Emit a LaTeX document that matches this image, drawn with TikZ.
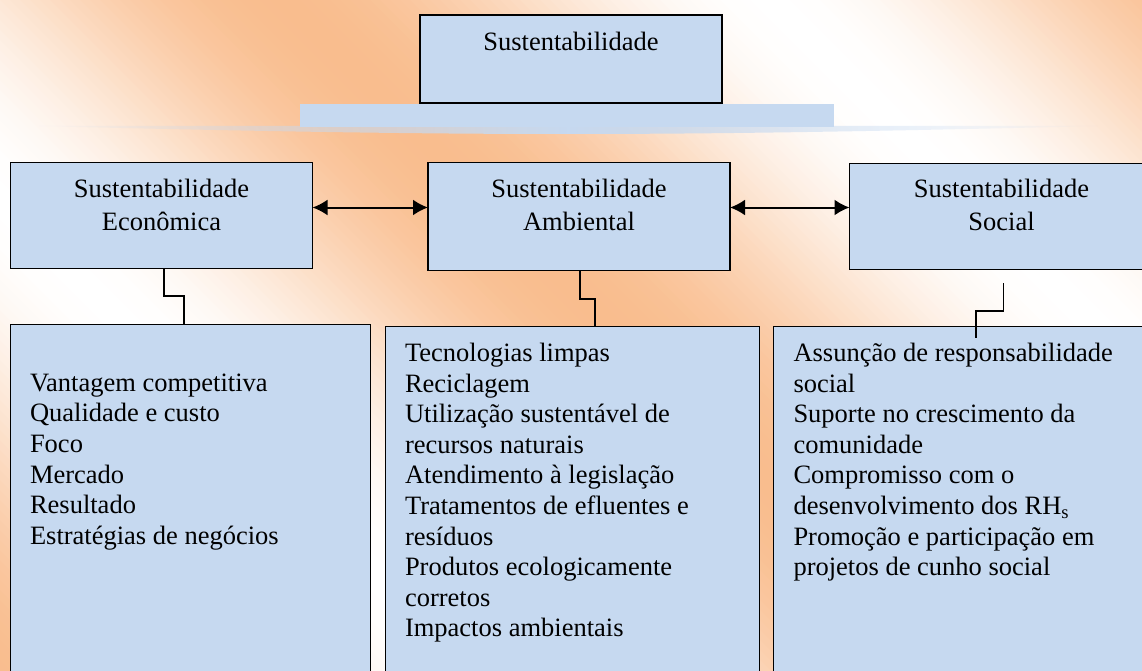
\documentclass[tikz,border=0pt]{standalone}
\usepackage{fontspec}
\setmainfont{Liberation Serif}
\usetikzlibrary{arrows.meta,fadings}
\definecolor{boxblue}{RGB}{198,217,240}
\definecolor{bgorange}{RGB}{249,189,142}
\tikzfading[name=lensfade, left color=transparent!100, right color=transparent!100, middle color=transparent!0]
\begin{document}
\begin{tikzpicture}[x=1pt,y=-1pt,
  every node/.style={font=\fontsize{26.5}{30.6}\selectfont},
  box/.style={draw=black, line width=1.5pt, fill=boxblue, inner sep=0pt, outer sep=0pt, anchor=north west},
  txt/.style={inner sep=0pt, outer sep=0pt},
  conn/.style={draw=black, line width=1.4pt},
  dbl/.style={line width=2pt, {Latex[length=15pt,width=16pt]}-{Latex[length=15pt,width=16pt]}},
  midtext/.style={txt, anchor=base},
  listtext/.style={txt, anchor=base west}]
\useasboundingbox (0,0) rectangle (1142,671);
\begin{scope}
\clip (0,0) rectangle (1142,671);
% background diagonal gradient
\foreach \u in {-690,-680,...,1160}{
  \pgfmathsetmacro\p{50+50*cos(0.3711340*(\u-280))}
  \fill[bgorange!\p!white] (\u-10,-10) -- (\u+1,-10) -- (\u+711,700) -- (\u+700,700) -- cycle;
}
% bar shadow lens and bar
\fill[boxblue, path fading=lensfade] (33,126) .. controls (250,131) and (400,134) .. (567,134)
   .. controls (734,134) and (884,131) .. (1103,126) -- cycle;
\node[fill=boxblue, inner sep=0pt, outer sep=0pt, minimum width=534pt, minimum height=23pt, anchor=north west] (bar) at (300,104) {};
% top box
\node[box, minimum width=302pt, minimum height=88pt] (top) at (420,15) {};
\node[midtext] (toptxt) at (571,51) {Sustentabilidade};
% middle boxes
\node[box, minimum width=302pt, minimum height=106pt] (econ) at (10.5,162.5) {};
\node[box, minimum width=302pt, minimum height=108pt] (amb) at (428,162.5) {};
\node[box, minimum width=310pt, minimum height=106pt] (soc) at (849.5,163.5) {};
\node[midtext] (econtxt) at (161.5,197) {\parbox[t]{300pt}{\centering\fontsize{26.5}{33}\selectfont Sustentabilidade\\Econômica}};
\node[midtext] (ambtxt) at (579,197) {\parbox[t]{300pt}{\centering\fontsize{26.5}{33}\selectfont Sustentabilidade\\Ambiental}};
\node[midtext] (soctxt) at (1001.5,197.5) {\parbox[t]{300pt}{\centering\fontsize{26.5}{33}\selectfont Sustentabilidade\\Social}};
% bottom boxes
\node[box, minimum width=360pt, minimum height=380pt] (econB) at (10.5,324.5) {};
\node[box, minimum width=374pt, minimum height=380pt] (ambB) at (385.5,326.5) {};
\node[box, minimum width=390pt, minimum height=380pt] (socB) at (773.5,326.5) {};
\node[listtext] (econlist) at (30,391) {\parbox[t]{360pt}{\raggedright\fontsize{26.5}{30.7}\selectfont
Vantagem competitiva\\
Qualidade e custo\\
Foco\\
Mercado\\
Resultado\\
Estratégias de negócios}};
\node[listtext] (amblist) at (405,361.5) {\parbox[t]{360pt}{\raggedright\fontsize{26.5}{30.6}\selectfont
Tecnologias limpas\\
Reciclagem\\
Utilização sustentável de\\
recursos naturais\\
Atendimento à legislação\\
Tratamentos de efluentes e\\
resíduos\\
Produtos ecologicamente\\
corretos\\
Impactos ambientais}};
\node[listtext] (soclist) at (793.5,361.5) {\parbox[t]{360pt}{\raggedright\fontsize{26.5}{30.6}\selectfont
Assunção de responsabilidade\\
social\\
Suporte no crescimento da\\
comunidade\\
Compromisso com o\\
desenvolvimento dos RH\textsubscript{s}\\
Promoção e participação em\\
projetos de cunho social}};
% connectors
\draw[conn] (164,0 |- econ.south) -- (164,296) -- (184,296) -- (184,0 |- econB.north);
\draw[conn] (580,0 |- amb.south) -- (580,299) -- (595,299) -- (595,0 |- ambB.north);
\coordinate (s1) at (1003.5,283);
\coordinate (s2) at (976,338);
\draw[conn] (s1) -- (1003.5,311) -- (976,311) -- (s2);
% arrows
\draw[dbl] (econ.east |- 0,207.5) -- (amb.west |- 0,207.5);
\draw[dbl] (amb.east |- 0,207.5) -- (soc.west |- 0,207.5);
\end{scope}
\end{tikzpicture}
\end{document}
